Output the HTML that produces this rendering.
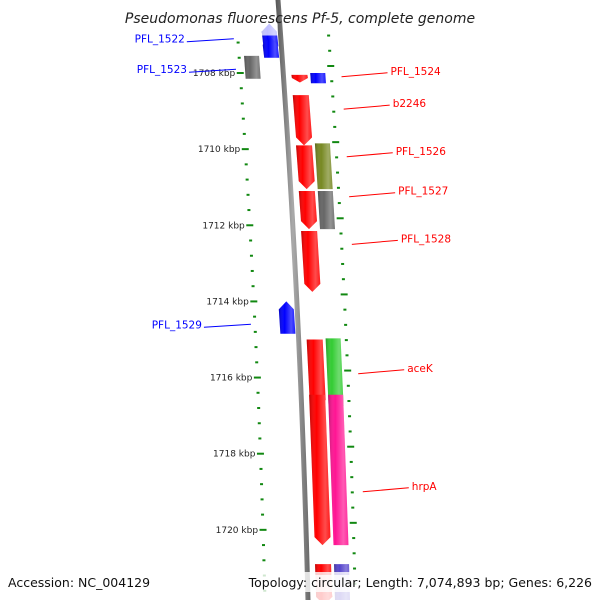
<!DOCTYPE html>
<html><head><meta charset="utf-8"><style>
html,body{margin:0;padding:0;background:#fff;}
svg{display:block;font-family:"DejaVu Sans","Liberation Sans",sans-serif;}
</style></head><body>
<svg id="map" width="600" height="600" viewBox="0 0 600 600" xmlns="http://www.w3.org/2000/svg">
<defs>
<linearGradient id="bbg" x1="0" x2="1"><stop offset="0" stop-color="#555"/><stop offset="0.5" stop-color="#aaa"/><stop offset="1" stop-color="#666"/></linearGradient>
<linearGradient id="shade" x1="0" x2="1"><stop offset="0" stop-color="#000" stop-opacity="0.25"/><stop offset="0.35" stop-color="#fff" stop-opacity="0"/><stop offset="0.75" stop-color="#fff" stop-opacity="0.3"/><stop offset="1" stop-color="#fff" stop-opacity="0.1"/></linearGradient>
</defs>
<g id="ticks"></g>
<g id="genes"></g>
<g id="labels"></g>
<text x="300" y="23" text-anchor="middle" font-size="14" font-style="italic" fill="#222">Pseudomonas fluorescens Pf-5, complete genome</text>
<rect x="256" y="572" width="340" height="20" fill="#fff" fill-opacity="0.8"/>
<text x="8" y="587" font-size="12.5" fill="#111">Accession: NC_004129</text>
<text x="592" y="587" text-anchor="end" font-size="12.5" fill="#111">Topology: circular; Length: 7,074,893 bp; Genes: 6,226</text>
</svg>
<script>
// kbp axis
const majorTicks = [1708,1710,1712,1714,1716,1718,1720];
const tickLabels = ["1708 kbp","1710 kbp","1712 kbp","1714 kbp","1716 kbp","1718 kbp","1720 kbp"];
// genes: start, end (kbp), lane, color, strand
const geneStart = [1706.7,1707.05,1707.55,1708.05,1708.0,1708.58,1709.9,1709.85,1711.1,1711.1,1712.15,1714.0,1715.0,1714.97,1716.45,1716.45,1720.9,1720.9];
const geneEnd   = [1707.3,1707.6,1708.15,1708.25,1708.27,1709.9,1711.05,1711.05,1712.1,1712.1,1713.75,1714.85,1716.8,1716.75,1720.4,1720.4,1722,1722];
const geneLane  = [-1,-1,-2,1,2,1,1,2,1,2,1,-1,1,2,1,2,1,2];
const geneColor = ["#0000ff","#0000ff","#666666","#ff0000","#0000ff","#ff0000","#ff0000","#778822","#ff0000","#666666","#ff0000","#0000ff","#ff0000","#33cc33","#ff0000","#ff1493","#ff0000","#5544cc"];
const geneStrand= [-1,-1,0,1,0,1,1,0,1,0,1,-1,1,0,1,0,1,0];
const geneFade  = [1,0,0,0,0,0,0,0,0,0,0,0,0,0,0,0,2,2];
const labelNames = ["PFL_1522","PFL_1523","PFL_1524","b2246","PFL_1526","PFL_1527","PFL_1528","PFL_1529","aceK","hrpA"];
const labelKbp   = [1707.1,1707.9,1708.1,1708.95,1710.2,1711.25,1712.5,1714.6,1715.9,1719.0];
const labelSide  = [-1,-1,1,1,1,1,1,-1,1,1];
const labelColor = ["#0000ff","#0000ff","#ff0000","#ff0000","#ff0000","#ff0000","#ff0000","#0000ff","#ff0000","#ff0000"];

const NS="http://www.w3.org/2000/svg";
function yOf(k){return 73+(k-1708)*38.07;}
function bb(y){return 278+0.075*y-0.0000417*y*y;}
function mk(tag,attrs,parent){const e=document.createElementNS(NS,tag);for(const a in attrs)e.setAttribute(a,attrs[a]);parent.appendChild(e);return e;}
const svg=document.getElementById('map');
const tg=document.getElementById('ticks'),gg=document.getElementById('genes'),lg=document.getElementById('labels');

// backbone
const bbPts=[];for(let y=0;y<=600;y+=20)bbPts.push([bb(y),y]);
const back=mk('path',{d:'M'+bbPts.map(p=>(p[0]-2.5)+','+p[1]).join(' L')+' L'+bbPts.reverse().map(p=>(p[0]+2.5)+','+p[1]).join(' L')+'Z',fill:'url(#bbg)'},svg);


svg.insertBefore(back,tg);

// ticks every 0.4 kbp
for(let i=-6;i<=38;i++){
  const k=1708+i*0.4; const y=yOf(k)-0; if(y<35||y>598)continue;
  const major=Math.abs(k-Math.round(k))<0.01&&Math.round(k)%2===0;
  const xl=bb(y)-43, xr=bb(y+7)+47, yr=y-7;
  const w=major?7:3;
  const t1=mk('line',{x1:xl-w/2,y1:y,x2:xl+w/2,y2:y,stroke:'#118811','stroke-width':2},tg);
  
  
  if(yr>5){const t2=mk('line',{x1:xr-w/2,y1:yr,x2:xr+w/2,y2:yr,stroke:'#118811','stroke-width':2},tg);
  
  }
}
majorTicks.forEach((k,i)=>{const y=yOf(k);
  const t=mk('text',{x:bb(y)-48,y:y+3,'text-anchor':'end','font-size':9,fill:'#222'},tg);t.textContent=tickLabels[i];
  
  });

// genes
const laneOff={'-2':[-38,-23],'-1':[-18,-3],'1':[8,24],'2':[27,42]};
geneStart.forEach((s,i)=>{
  const y1=Math.max(yOf(s),-5),y2=Math.min(yOf(geneEnd[i]),605);
  const o=laneOff[geneLane[i]];const a=bb(y1),b=bb(y2);
  const h=Math.min(8,(y2-y1)*0.6);let d;
  if(geneStrand[i]===1){d=`M${a+o[0]},${y1} L${a+o[1]},${y1} L${b+o[1]},${y2-h} L${b+(o[0]+o[1])/2},${y2} L${b+o[0]},${y2-h}Z`;}
  else if(geneStrand[i]===-1){d=`M${a+(o[0]+o[1])/2},${y1} L${a+o[1]},${y1+h} L${b+o[1]},${y2} L${b+o[0]},${y2} L${a+o[0]},${y1+h}Z`;}
  else d=`M${a+o[0]},${y1} L${a+o[1]},${y1} L${b+o[1]},${y2} L${b+o[0]},${y2}Z`;
  const g=mk('g',{},gg);
  
  
  mk('path',{d:d,fill:geneColor[i]},g);
  mk('path',{d:d,fill:'url(#shade)'},g);
  if(geneFade[i]===1)mk('rect',{x:a+o[0],y:y1,width:o[1]-o[0]+1,height:12,fill:'#fff','fill-opacity':0.75},g);
  if(geneFade[i]===2)mk('rect',{x:a+o[0]-1,y:575,width:o[1]-o[0]+2,height:25,fill:'#fff','fill-opacity':0.8},g);
});

// labels
labelNames.forEach((n,i)=>{
  const y=yOf(labelKbp[i]);let x1,x2,tx,ty;
  if(labelSide[i]<0){x1=bb(y)-47;x2=x1-47;tx=x2-2;ty=y+1;}
  else{x1=bb(y)+58;x2=x1+46;tx=x2+3;ty=y-3;}
  const l=mk('line',{x1:x1,y1:y,x2:x2,y2:labelSide[i]<0?y+3:y-4,stroke:labelColor[i],'stroke-width':1},lg);
  
  
  const t=mk('text',{x:tx,y:(labelSide[i]<0?ty+3:ty+1),'text-anchor':labelSide[i]<0?'end':'start','font-size':10.5,fill:labelColor[i]},lg);
  t.textContent=n;
  
  
});
</script>
</body></html>
